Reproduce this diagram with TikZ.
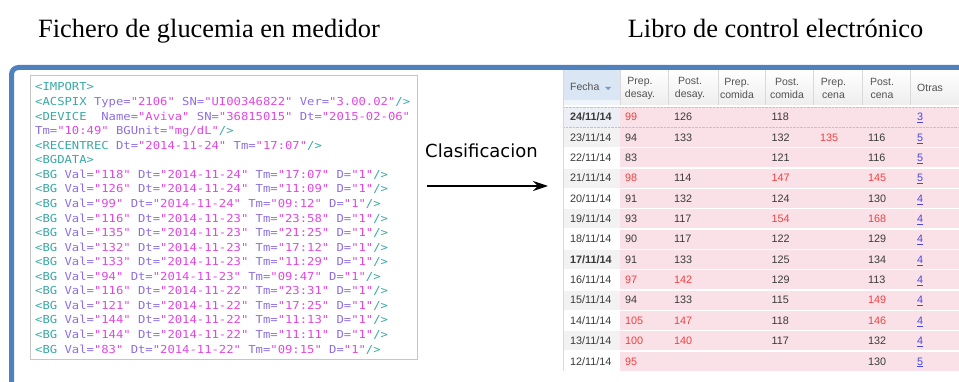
\documentclass[tikz,border=0pt]{standalone}
\usepackage{fontspec}
\setmainfont{Liberation Serif}
\newfontfamily\xmlfont{DejaVu Sans Mono}[FakeStretch=1.11]
\newfontfamily\uifont{Liberation Sans}
\newfontfamily\labelfont{DejaVu Sans}
\usetikzlibrary{arrows.meta}

\definecolor{framecol}{RGB}{79,129,189}
\definecolor{xmltag}{RGB}{56,168,164}
\definecolor{xmlattr}{RGB}{140,110,226}
\definecolor{xmlval}{RGB}{226,70,226}
\definecolor{cellpink}{RGB}{249,225,231}
\definecolor{cellgray}{RGB}{242,242,242}
\definecolor{cellsel}{RGB}{236,239,245}
\definecolor{hdrblue}{RGB}{218,230,244}
\definecolor{txtgray}{RGB}{58,58,58}
\definecolor{hitxt}{RGB}{240,64,64}
\definecolor{linkblue}{RGB}{72,72,222}

% xml colouring
\newcommand{\xt}[1]{\textcolor{xmltag}{#1}}
\newcommand{\xa}[1]{\textcolor{xmlattr}{#1}}
\newcommand{\xv}[1]{\textcolor{xmlval}{"#1"}}
\newcommand{\bgline}[3]{\xt{<BG} \xa{Val=}\xv{#1} \xa{Dt=}\xv{#2} \xa{Tm=}\xv{#3} \xa{D=}\xv{1}\xt{/>}}

\tikzset{
  title/.style={anchor=base, inner sep=0pt, font=\fontsize{26.4}{30}\selectfont},
  xml/.style={anchor=base west, inner sep=0pt, font=\xmlfont\fontsize{11}{13}\selectfont},
  hdr/.style={align=center, inner sep=0pt, text=black!68, font=\uifont\fontsize{10.5}{13}\selectfont},
  val/.style={anchor=base west, inner sep=0pt, text=txtgray, font=\uifont\fontsize{10.8}{13}\selectfont},
  dbold/.style={val, font=\uifont\bfseries\fontsize{10.8}{13}\selectfont},
  hi/.style={val, text=hitxt},
  lnk/.style={val, text=linkblue}
}

\begin{document}
\begin{tikzpicture}[x=1pt, y=-1pt]
    \useasboundingbox (0,0) rectangle (959,382);
    % Titles
    \node[title] (ttlMeter) at (209,38) {Fichero de glucemia en medidor};
    \node[title] (ttlBook) at (775.5,38) {Libro de control electrónico};

    % Meter file (xml listing)
    \node[draw=gray!45, line width=1.3pt, minimum width=387pt, minimum height=284pt, anchor=north west, inner sep=0pt] (xmlbox) at (30,75) {};
    \node[xml] (x1) at (35,91) {\xt{<IMPORT>}};
    \node[xml] (x2) at (35,105.56) {\xt{<ACSPIX} \xa{Type=}\xv{2106} \xa{SN=}\xv{UI00346822} \xa{Ver=}\xv{3.00.02}\xt{/>}};
    \node[xml] (x3) at (35,120.12) {\xt{<DEVICE}\ \ \xa{Name=}\xv{Aviva} \xa{SN=}\xv{36815015} \xa{Dt=}\xv{2015-02-06}};
    \node[xml] (x4) at (35,134.68) {\xa{Tm=}\xv{10:49} \xa{BGUnit=}\xv{mg/dL}\xt{/>}};
    \node[xml] (x5) at (35,149.24) {\xt{<RECENTREC} \xa{Dt=}\xv{2014-11-24} \xa{Tm=}\xv{17:07}\xt{/>}};
    \node[xml] (x6) at (35,163.8) {\xt{<BGDATA>}};
    \node[xml] (x7) at (35,178.36) {\bgline{118}{2014-11-24}{17:07}};
    \node[xml] (x8) at (35,192.92) {\bgline{126}{2014-11-24}{11:09}};
    \node[xml] (x9) at (35,207.48) {\bgline{99}{2014-11-24}{09:12}};
    \node[xml] (x10) at (35,222.04) {\bgline{116}{2014-11-23}{23:58}};
    \node[xml] (x11) at (35,236.6) {\bgline{135}{2014-11-23}{21:25}};
    \node[xml] (x12) at (35,251.16) {\bgline{132}{2014-11-23}{17:12}};
    \node[xml] (x13) at (35,265.72) {\bgline{133}{2014-11-23}{11:29}};
    \node[xml] (x14) at (35,280.28) {\bgline{94}{2014-11-23}{09:47}};
    \node[xml] (x15) at (35,294.84) {\bgline{116}{2014-11-22}{23:31}};
    \node[xml] (x16) at (35,309.4) {\bgline{121}{2014-11-22}{17:25}};
    \node[xml] (x17) at (35,323.96) {\bgline{144}{2014-11-22}{11:13}};
    \node[xml] (x18) at (35,338.52) {\bgline{144}{2014-11-22}{11:11}};
    \node[xml] (x19) at (35,353.08) {\bgline{83}{2014-11-22}{09:15}};

    % Classification step
    \node[anchor=base west, inner sep=0pt, font=\labelfont\fontsize{18}{20}\selectfont] (clasif) at (425,158) {Clasificacion};
    \coordinate (arrS) at (427,186);
    \coordinate (arrE) at (548,186);
    \draw[line width=1.5pt, -{Stealth[length=15pt, width=10pt]}] (arrS) -- (arrE);

    % Control book table: backgrounds
    \shade[top color=white, bottom color=gray!14] (563,70) rectangle (959,105);
    \fill[hdrblue] (563,70) rectangle (620,100);
    \fill[hdrblue!45] (563,100) rectangle (620,105);
    \draw[gray!30] (620,70) -- (620,105) (668,70) -- (668,105) (718,70) -- (718,105)
        (765,70) -- (765,105) (813,70) -- (813,105) (862,70) -- (862,105) (910,70) -- (910,105);
    \fill[cellpink] (620,107) rectangle (959,371);
    \fill[cellsel] (563,107) rectangle (620,127.33);
    \fill[cellgray] (563,127.33) rectangle (620,147.67);
    \fill[cellgray] (563,168) rectangle (620,188.33);
    \fill[cellgray] (563,208.67) rectangle (620,229);
    \fill[cellgray] (563,249.33) rectangle (620,269.67);
    \fill[cellgray] (563,290) rectangle (620,310.33);
    \fill[cellgray] (563,330.67) rectangle (620,351);
    \draw[white, line width=1.3pt] (563,147.67) -- (959,147.67) (563,168) -- (959,168)
        (563,188.33) -- (959,188.33) (563,208.67) -- (959,208.67) (563,229) -- (959,229)
        (563,249.33) -- (959,249.33) (563,269.67) -- (959,269.67) (563,290) -- (959,290)
        (563,310.33) -- (959,310.33) (563,330.67) -- (959,330.67) (563,351) -- (959,351);
    \draw[framecol!45, densely dotted] (563,107) -- (959,107) (563,127.33) -- (959,127.33);
    \draw[gray!30] (563,70) -- (563,371);

    % Header labels
    \node[hdr, anchor=base west] (hFecha) at (570,91) {Fecha};
    \fill[framecol!80] (605,87) -- (611,87) -- (608,90) -- cycle;
    \node[hdr] (hPD) at (640,88) {Prep.\\desay.};
    \node[hdr] (hSD) at (690,88) {Post.\\desay.};
    \node[hdr] (hPC) at (737,88) {Prep.\\comida};
    \node[hdr] (hSC) at (787,88) {Post.\\comida};
    \node[hdr] (hPN) at (833.5,88) {Prep.\\cena};
    \node[hdr] (hSN) at (882,88) {Post.\\cena};
    \node[hdr] (hOt) at (930,88) {Otras};

    % 24/11/14
    \node[dbold] (r0d) at (570,121) {24/11/14};
    \node[hi] (r0a) at (625,121) {99};
    \node[val] (r0b) at (674,121) {126};
    \node[val] (r0c) at (771.5,121) {118};
    \node[lnk] (r0o) at (917,121) {\underline{3}};
    % 23/11/14
    \node[val] (r1d) at (570,141.33) {23/11/14};
    \node[val] (r1a) at (625,141.33) {94};
    \node[val] (r1b) at (674,141.33) {133};
    \node[val] (r1c) at (771.5,141.33) {132};
    \node[hi] (r1e) at (820,141.33) {135};
    \node[val] (r1f) at (868,141.33) {116};
    \node[lnk] (r1o) at (917,141.33) {\underline{5}};
    % 22/11/14
    \node[val] (r2d) at (570,161.67) {22/11/14};
    \node[val] (r2a) at (625,161.67) {83};
    \node[val] (r2c) at (771.5,161.67) {121};
    \node[val] (r2f) at (868,161.67) {116};
    \node[lnk] (r2o) at (917,161.67) {\underline{5}};
    % 21/11/14
    \node[val] (r3d) at (570,182) {21/11/14};
    \node[hi] (r3a) at (625,182) {98};
    \node[val] (r3b) at (674,182) {114};
    \node[hi] (r3c) at (771.5,182) {147};
    \node[hi] (r3f) at (868,182) {145};
    \node[lnk] (r3o) at (917,182) {\underline{5}};
    % 20/11/14
    \node[val] (r4d) at (570,202.33) {20/11/14};
    \node[val] (r4a) at (625,202.33) {91};
    \node[val] (r4b) at (674,202.33) {132};
    \node[val] (r4c) at (771.5,202.33) {124};
    \node[val] (r4f) at (868,202.33) {130};
    \node[lnk] (r4o) at (917,202.33) {\underline{4}};
    % 19/11/14
    \node[val] (r5d) at (570,222.67) {19/11/14};
    \node[val] (r5a) at (625,222.67) {93};
    \node[val] (r5b) at (674,222.67) {117};
    \node[hi] (r5c) at (771.5,222.67) {154};
    \node[hi] (r5f) at (868,222.67) {168};
    \node[lnk] (r5o) at (917,222.67) {\underline{4}};
    % 18/11/14
    \node[val] (r6d) at (570,243) {18/11/14};
    \node[val] (r6a) at (625,243) {90};
    \node[val] (r6b) at (674,243) {117};
    \node[val] (r6c) at (771.5,243) {122};
    \node[val] (r6f) at (868,243) {129};
    \node[lnk] (r6o) at (917,243) {\underline{4}};
    % 17/11/14
    \node[dbold] (r7d) at (570,263.33) {17/11/14};
    \node[val] (r7a) at (625,263.33) {91};
    \node[val] (r7b) at (674,263.33) {133};
    \node[val] (r7c) at (771.5,263.33) {125};
    \node[val] (r7f) at (868,263.33) {134};
    \node[lnk] (r7o) at (917,263.33) {\underline{4}};
    % 16/11/14
    \node[val] (r8d) at (570,283.67) {16/11/14};
    \node[hi] (r8a) at (625,283.67) {97};
    \node[hi] (r8b) at (674,283.67) {142};
    \node[val] (r8c) at (771.5,283.67) {129};
    \node[val] (r8f) at (868,283.67) {113};
    \node[lnk] (r8o) at (917,283.67) {\underline{4}};
    % 15/11/14
    \node[val] (r9d) at (570,304) {15/11/14};
    \node[val] (r9a) at (625,304) {94};
    \node[val] (r9b) at (674,304) {133};
    \node[val] (r9c) at (771.5,304) {115};
    \node[hi] (r9f) at (868,304) {149};
    \node[lnk] (r9o) at (917,304) {\underline{4}};
    % 14/11/14
    \node[val] (r10d) at (570,324.33) {14/11/14};
    \node[hi] (r10a) at (625,324.33) {105};
    \node[hi] (r10b) at (674,324.33) {147};
    \node[val] (r10c) at (771.5,324.33) {118};
    \node[hi] (r10f) at (868,324.33) {146};
    \node[lnk] (r10o) at (917,324.33) {\underline{4}};
    % 13/11/14
    \node[val] (r11d) at (570,344.67) {13/11/14};
    \node[hi] (r11a) at (625,344.67) {100};
    \node[hi] (r11b) at (674,344.67) {140};
    \node[val] (r11c) at (771.5,344.67) {117};
    \node[val] (r11f) at (868,344.67) {132};
    \node[lnk] (r11o) at (917,344.67) {\underline{4}};
    % 12/11/14
    \node[val] (r12d) at (570,365) {12/11/14};
    \node[hi] (r12a) at (625,365) {95};
    \node[val] (r12f) at (868,365) {130};
    \node[lnk] (r12o) at (917,365) {\underline{5}};

    % Blue frame
    \draw[framecol, line width=5pt, rounded corners=7pt] (11.5,395) -- (11.5,67.5) -- (975,67.5);
\end{tikzpicture}
\end{document}
